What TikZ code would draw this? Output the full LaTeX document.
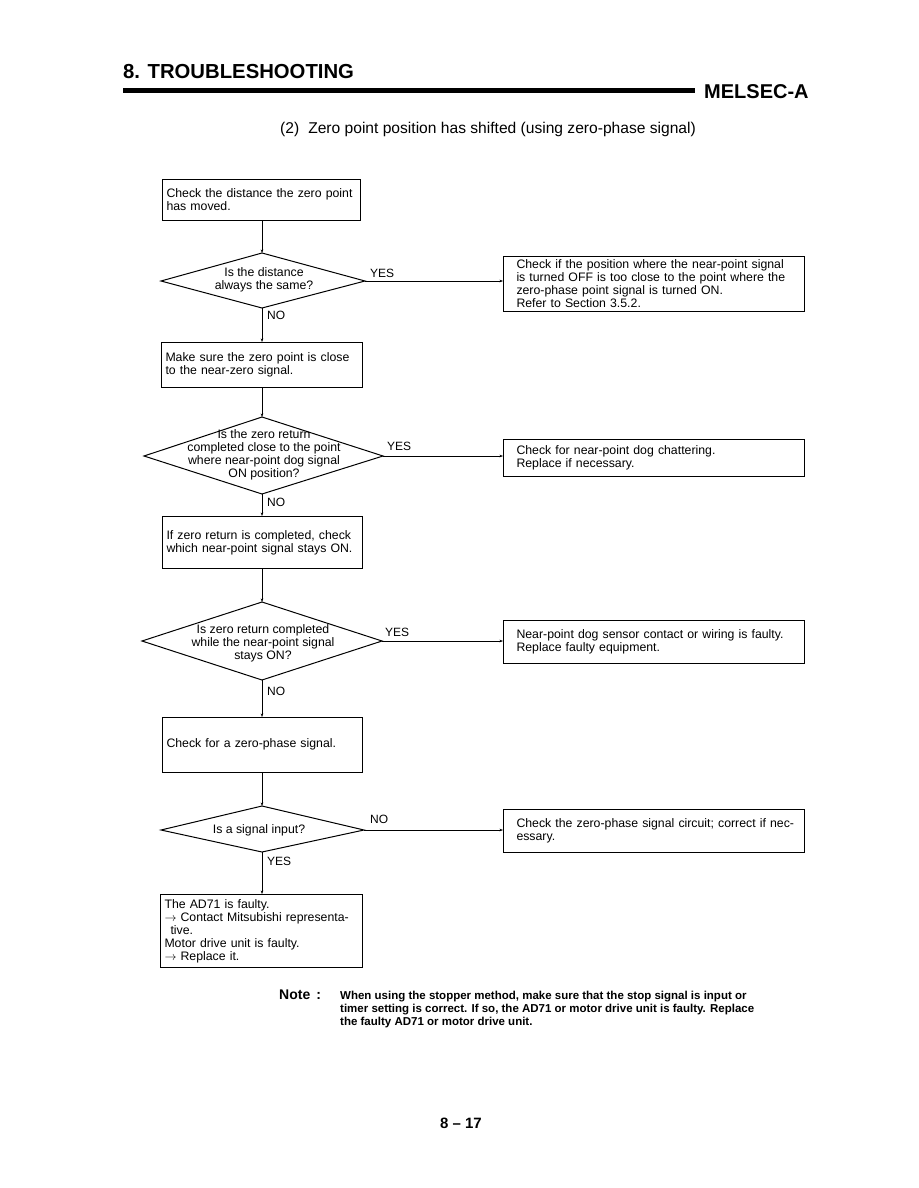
\documentclass[tikz,border=0pt]{standalone}
\usepackage{fontspec}
\setmainfont{Liberation Sans}
\usetikzlibrary{arrows.meta}
\begin{document}
\begin{tikzpicture}[x=1pt,y=-1pt,
  box/.style={draw, line width=1pt, anchor=north west, inner xsep=4pt, inner ysep=0pt,
    align=left, font=\fontsize{12.3}{13}\selectfont},
  rbox/.style={box, inner xsep=13pt, minimum width=301pt, text width=275pt},
  dia/.style={draw, line width=1pt, line join=miter},
  dtext/.style={align=center, inner sep=0pt, font=\fontsize{12.3}{13}\selectfont},
  lbl/.style={anchor=west, inner sep=0pt, font=\fontsize{12}{13}\selectfont},
  conn/.style={line width=0.8pt, -{Stealth[length=3.5pt,width=2.6pt]}}]
\useasboundingbox (0,0) rectangle (918,1188);

% header
\node[anchor=base west, inner sep=0pt, font=\bfseries\fontsize{20.3}{22}\selectfont] (title) at (123,79) {8. TROUBLESHOOTING};
\fill (123,88) rectangle (695,93.5);
\node[anchor=base west, inner sep=0pt, font=\bfseries\fontsize{20}{22}\selectfont] (mel) at (704,99) {MELSEC-A};
\node[anchor=base west, inner sep=0pt, font=\fontsize{15.6}{17}\selectfont] (sub) at (280,133) {(2)\hspace{9pt}Zero point position has shifted (using zero-phase signal)};

% left column boxes
\node[box, minimum width=198pt, text width=190pt, minimum height=41pt] (b1) at (162,179)
  {\strut Check the distance the zero point\\has moved.};
\node[box, minimum width=201pt, text width=193pt, minimum height=45pt] (b2) at (161,342)
  {\strut Make sure the zero point is close\\to the near-zero signal.};
\node[box, minimum width=200pt, text width=192pt, minimum height=52pt] (b3) at (162,516)
  {\strut If zero return is completed, check\\which near-point signal stays ON.};
\node[box, minimum width=200pt, text width=192pt, minimum height=55pt] (b4) at (162,717)
  {\strut Check for a zero-phase signal.};
\node[box, minimum width=202pt, text width=194pt, minimum height=73pt] (b5) at (160,894)
  {\strut The AD71 is faulty.\\$\rightarrow$ Contact Mitsubishi representa-\\\hspace*{6pt}tive.\\Motor drive unit is faulty.\\$\rightarrow$ Replace it.};

% right column boxes
\node[rbox, minimum height=55pt] (r1) at (503,256)
  {\strut Check if the position where the near-point signal\\\mbox{is turned OFF is too close to the point where the}\\zero-phase point signal is turned ON.\\Refer to Section 3.5.2.};
\node[rbox, minimum height=37pt] (r2) at (503,439)
  {\strut Check for near-point dog chattering.\\Replace if necessary.};
\node[rbox, minimum height=43pt] (r3) at (503,620)
  {\strut Near-point dog sensor contact or wiring is faulty.\\Replace faulty equipment.};
\node[rbox, minimum height=43pt] (r4) at (503,809)
  {\strut\mbox{Check the zero-phase signal circuit; correct if nec-}\\essary.};

% diamonds
\coordinate (d1t) at (262,253); \coordinate (d1r) at (365,281);
\coordinate (d1b) at (262,308); \coordinate (d1l) at (161,281);
\draw[dia] (d1t) -- (d1r) -- (d1b) -- (d1l) -- cycle;
\node[dtext] (d1) at (264,280) {Is the distance\\always the same?};

\coordinate (d2t) at (262,417); \coordinate (d2r) at (383,456);
\coordinate (d2b) at (262,494); \coordinate (d2l) at (144,456);
\draw[dia] (d2t) -- (d2r) -- (d2b) -- (d2l) -- cycle;
\node[dtext] (d2) at (264,455) {Is the zero return\\completed close to the point\\where near-point dog signal\\ON position?};

\coordinate (d3t) at (262,602); \coordinate (d3r) at (382,641);
\coordinate (d3b) at (262,680); \coordinate (d3l) at (142,641);
\draw[dia] (d3t) -- (d3r) -- (d3b) -- (d3l) -- cycle;
\node[dtext] (d3) at (263,643) {Is zero return completed\\while the near-point signal\\stays ON?};

\coordinate (d4t) at (262,806); \coordinate (d4r) at (364,830);
\coordinate (d4b) at (262,852); \coordinate (d4l) at (161,830);
\draw[dia] (d4t) -- (d4r) -- (d4b) -- (d4l) -- cycle;
\node[dtext] (d4) at (259,830) {Is a signal input?};

% connectors down
\draw[conn] (d1t |- b1.south) -- (d1t);
\draw[conn] (d1b) -- (d1b |- b2.north);
\draw[conn] (d2t |- b2.south) -- (d2t);
\draw[conn] (d2b) -- (d2b |- b3.north);
\draw[conn] (d3t |- b3.south) -- (d3t);
\draw[conn] (d3b) -- (d3b |- b4.north);
\draw[conn] (d4t |- b4.south) -- (d4t);
\draw[conn] (d4b) -- (d4b |- b5.north);

% connectors right
\draw[conn] (d1r) -- (r1.west |- d1r);
\draw[conn] (d2r) -- (r2.west |- d2r);
\draw[conn] (d3r) -- (r3.west |- d3r);
\draw[conn] (d4r) -- (r4.west |- d4r);

% labels
\node[lbl] (y1) at (370,273) {YES};
\node[lbl] (n1) at (267,315) {NO};
\node[lbl] (y2) at (387,446) {YES};
\node[lbl] (n2) at (267,502) {NO};
\node[lbl] (y3) at (385,632) {YES};
\node[lbl] (n3) at (267,691) {NO};
\node[lbl] (n4) at (370,819) {NO};
\node[lbl] (y4) at (267,861) {YES};

% note
\node[anchor=base west, inner sep=0pt, font=\bfseries\fontsize{14}{16}\selectfont] (note) at (279,999) {Note\hspace{6pt}:};
\node[anchor=north west, inner sep=0pt, align=left, font=\bfseries\fontsize{11.5}{13}\selectfont] (notetext) at (340,990.5)
  {When using the stopper method, make sure that the stop signal is input or\\timer setting is correct. If so, the AD71 or motor drive unit is faulty. Replace\\the faulty AD71 or motor drive unit.};

% page number
\node[anchor=base, inner sep=0pt, font=\bfseries\fontsize{15}{17}\selectfont] (page) at (461,1128) {8 -- 17};
\end{tikzpicture}
\end{document}
